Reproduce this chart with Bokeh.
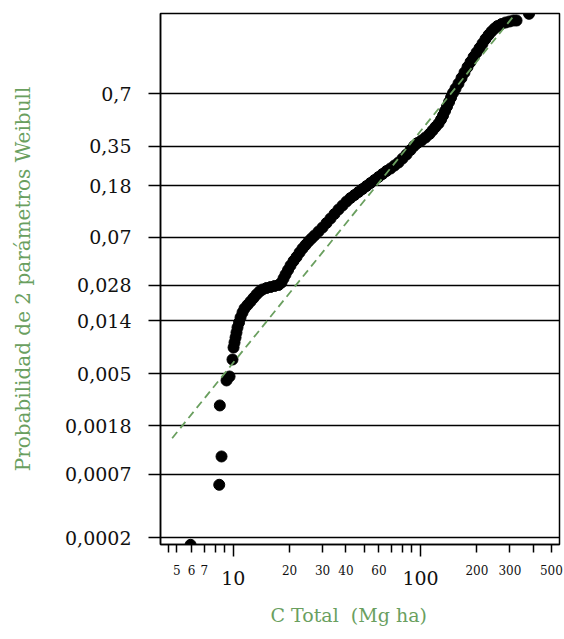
import numpy as np
from bokeh.plotting import figure
from bokeh.models import FixedTicker, LogAxis, Range1d, ColumnDataSource, Title
from bokeh.embed import file_html
from bokeh.resources import INLINE

# ---------------- data ----------------
c_total = [5.92, 8.42, 8.66, 8.48, 9.21, 9.56, 9.91, 10.04, 10.16, 10.29,
           10.41, 10.54, 10.74, 10.94, 11.21, 11.49, 11.92, 12.37, 12.83, 13.31,
           13.82, 14.33, 15.06, 15.82, 16.62, 17.45, 18.11, 18.56, 19.02, 19.62,
           20.23, 20.99, 21.78, 22.60, 23.44, 24.32, 25.23, 26.18, 27.17, 28.54,
           29.98, 31.49, 33.07, 34.74, 36.49, 38.33, 40.26, 42.29, 44.43, 46.67,
           49.02, 51.49, 54.08, 56.81, 59.67, 62.68, 65.83, 69.15, 72.63, 76.29,
           80.13, 84.17, 88.42, 92.32, 96.38, 101.2, 106.3, 111.7, 115.9, 120.2,
           124.8, 128.7, 131.9, 135.1, 138.5, 142.0, 145.5, 149.1, 153.8, 159.5,
           165.5, 171.7, 178.2, 184.9, 191.9, 199.1, 206.6, 214.3, 222.3, 230.7,
           239.3, 248.4, 257.7, 270.7, 284.4, 298.7, 313.7, 325.5, 379.6]

prob = [0.000175, 0.000567, 0.000987, 0.00268, 0.00437, 0.00472, 0.00658, 0.00832, 0.00917, 0.01011,
        0.01114, 0.01229, 0.01354, 0.01492, 0.01645, 0.01778, 0.01903, 0.02036, 0.02179, 0.02332,
        0.02472, 0.02569, 0.02645, 0.02696, 0.02749, 0.02803, 0.02941, 0.03178, 0.03431, 0.03742,
        0.04080, 0.04448, 0.04801, 0.05232, 0.05646, 0.06034, 0.06448, 0.06826, 0.07223, 0.07790,
        0.08396, 0.09133, 0.09933, 0.10799, 0.11731, 0.12622, 0.13578, 0.14469, 0.15275, 0.16121,
        0.17011, 0.17942, 0.18917, 0.19939, 0.21015, 0.22135, 0.23305, 0.24315, 0.25579, 0.26900,
        0.28743, 0.30686, 0.32989, 0.35142, 0.36823, 0.38263, 0.40040, 0.42178, 0.44383, 0.46646,
        0.48981, 0.51700, 0.54482, 0.57667, 0.60894, 0.64130, 0.67367, 0.70569, 0.73707, 0.77083,
        0.80623, 0.83918, 0.86937, 0.89411, 0.91593, 0.93307, 0.94785, 0.96029, 0.97050, 0.97786,
        0.98310, 0.98681, 0.98938, 0.99115, 0.99231, 0.99302, 0.99367, 0.99367, 0.99689]

# fitted 2-parameter Weibull line (end points)
fit_c = [4.72, 321.0]
fit_prob = [0.00141, 0.99688]

# axis ticks / labels
y_tick_probs = [0.0002, 0.0007, 0.0018, 0.005, 0.014, 0.028, 0.07, 0.18, 0.35, 0.7]
y_tick_labels = ["0,0002", "0,0007", "0,0018", "0,005", "0,014", "0,028", "0,07", "0,18", "0,35", "0,7"]
x_big_ticks = [10, 100]
x_minor_ticks = [4.5, 5, 6, 7, 8, 9, 20, 30, 40, 50, 60, 70, 80, 90, 200, 300, 400, 500]
x_small_label_ticks = [5, 6, 7, 20, 30, 40, 60, 200, 300, 500]

x_title = "C Total\u00a0 (Mg ha)"
y_title = "Probabilidad de 2 parámetros Weibull"


def weibull_scale(p):
    p = np.asarray(p, dtype=float)
    return np.log(-np.log(1.0 - p))


GREEN = "#6a9f5f"
INK = "#111111"
FONT = "DejaVu Serif"

p = figure(width=564, height=639, x_axis_type="log",
           x_range=Range1d(4.09, 552), y_range=Range1d(-8.645, 1.759),
           output_backend="svg", toolbar_location=None,
           min_border_left=160, min_border_right=5,
           min_border_top=13, min_border_bottom=95)
p.background_fill_color = "white"
p.border_fill_color = "white"
p.outline_line_color = "black"
p.outline_line_width = 1.5

# ---- y axis (Weibull probability scale) ----
y_ticks = [round(float(v), 6) for v in weibull_scale(y_tick_probs)]
ya = p.yaxis[0]
ya.ticker = FixedTicker(ticks=y_ticks, minor_ticks=[])
ya.major_label_overrides = {t: lab for t, lab in zip(y_ticks, y_tick_labels)}
ya.major_tick_out = 12
ya.major_tick_in = 0
ya.minor_tick_line_color = None
ya.major_tick_line_color = "black"
ya.major_tick_line_width = 1.5
ya.axis_line_color = "black"
ya.axis_line_width = 1.5
ya.major_label_standoff = 17
ya.major_label_text_font = FONT
ya.major_label_text_font_size = "19px"
ya.major_label_text_color = INK
ya.axis_label = y_title
ya.axis_label_text_font = FONT
ya.axis_label_text_font_size = "20px"
ya.axis_label_text_font_style = "normal"
ya.axis_label_text_color = GREEN
ya.axis_label_standoff = 27

p.ygrid.ticker = FixedTicker(ticks=y_ticks, minor_ticks=[])
p.ygrid.grid_line_color = "black"
p.ygrid.grid_line_width = 1.5
p.xgrid.visible = False

# ---- x axis A: ticks + big labels 10 / 100 ----
xa = p.xaxis[0]
xa.ticker = FixedTicker(ticks=x_big_ticks, minor_ticks=x_minor_ticks)
xa.major_label_overrides = {t: str(t) for t in x_big_ticks}
xa.major_tick_out = 12
xa.major_tick_in = 0
xa.minor_tick_out = 8
xa.minor_tick_in = 0
xa.major_tick_line_color = "black"
xa.minor_tick_line_color = "black"
xa.major_tick_line_width = 1.5
xa.minor_tick_line_width = 1.5
xa.axis_line_color = "black"
xa.axis_line_width = 1.5
xa.major_label_standoff = 14
xa.major_label_text_font = FONT
xa.major_label_text_font_size = "19px"
xa.major_label_text_color = INK

# ---- x axis B: small labels ----
xb = LogAxis(ticker=FixedTicker(ticks=x_small_label_ticks, minor_ticks=[]))
xb.major_label_overrides = {t: str(t) for t in x_small_label_ticks}
xb.axis_line_color = None
xb.major_tick_line_color = None
xb.minor_tick_line_color = None
xb.major_label_standoff = -29
xb.major_label_text_font = FONT
xb.major_label_text_font_size = "12px"
xb.major_label_text_color = INK
p.add_layout(xb, "below")

# ---- x title ----
xt = Title(text=x_title, align="left", offset=110, standoff=28,
           text_font=FONT, text_font_size="19px", text_font_style="normal",
           text_color=GREEN)
p.add_layout(xt, "below")

# ---- data ----
src = ColumnDataSource(data=dict(x=c_total, y=weibull_scale(prob)))
p.scatter("x", "y", source=src, marker="circle", size=11,
          fill_color="black", line_color="black")
p.line(fit_c, weibull_scale(fit_prob), line_color=GREEN, line_width=1.8,
       line_dash="8 5")

open("out.html", "w").write(file_html(p, INLINE))
